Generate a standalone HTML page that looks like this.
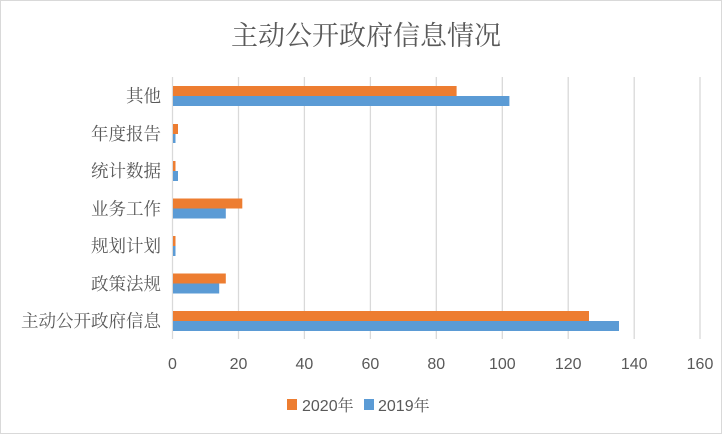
<!DOCTYPE html>
<html><head><meta charset="utf-8"><style>
body{margin:0;background:#fff;}
text{font-family:"Liberation Sans","Noto Serif CJK SC",serif;fill:#595959;}
.cj{font-family:"Liberation Serif","Noto Serif CJK SC",serif;}
</style></head><body>
<svg width="722" height="434" viewBox="0 0 722 434" xmlns="http://www.w3.org/2000/svg">
<rect x="0.5" y="0.5" width="721" height="433" fill="#fff" stroke="#d9d9d9"/>
<text class="cj" x="366" y="45" font-size="27" text-anchor="middle">主动公开政府信息情况</text>
<g stroke="#d9d9d9" stroke-width="1.3">
<line x1="172.5" y1="77" x2="172.5" y2="339"/>
<line x1="238.5" y1="77" x2="238.5" y2="339"/>
<line x1="304.4" y1="77" x2="304.4" y2="339"/>
<line x1="370.4" y1="77" x2="370.4" y2="339"/>
<line x1="436.3" y1="77" x2="436.3" y2="339"/>
<line x1="502.3" y1="77" x2="502.3" y2="339"/>
<line x1="568.2" y1="77" x2="568.2" y2="339"/>
<line x1="634.2" y1="77" x2="634.2" y2="339"/>
<line x1="700" y1="77" x2="700" y2="339"/>
</g>
<g>
<rect x="173" y="86" width="283.6" height="10" fill="#ed7d31"/><rect x="173" y="96" width="336.4" height="10" fill="#5b9bd5"/>
<rect x="173" y="124" width="5" height="10" fill="#ed7d31"/><rect x="173" y="134" width="2.5" height="9" fill="#5b9bd5"/>
<rect x="173" y="161" width="2.5" height="10" fill="#ed7d31"/><rect x="173" y="171" width="5" height="10" fill="#5b9bd5"/>
<rect x="173" y="198.5" width="69.3" height="10" fill="#ed7d31"/><rect x="173" y="208.5" width="52.8" height="10" fill="#5b9bd5"/>
<rect x="173" y="236" width="2.5" height="10" fill="#ed7d31"/><rect x="173" y="246" width="2.5" height="10" fill="#5b9bd5"/>
<rect x="173" y="273.5" width="52.8" height="10" fill="#ed7d31"/><rect x="173" y="283.5" width="46.2" height="10" fill="#5b9bd5"/>
<rect x="173" y="311" width="416" height="10" fill="#ed7d31"/><rect x="173" y="321" width="446" height="10" fill="#5b9bd5"/>
</g>
<g class="cj" font-size="17.5" text-anchor="end">
<text x="161" y="102">其他</text>
<text x="161" y="140">年度报告</text>
<text x="161" y="177">统计数据</text>
<text x="161" y="215">业务工作</text>
<text x="161" y="252">规划计划</text>
<text x="161" y="290">政策法规</text>
<text x="161" y="327">主动公开政府信息</text>
</g>
<g font-size="16" text-anchor="middle">
<text x="172.5" y="369">0</text><text x="238.5" y="369">20</text><text x="304.4" y="369">40</text>
<text x="370.4" y="369">60</text><text x="436.3" y="369">80</text><text x="502.3" y="369">100</text>
<text x="568.2" y="369">120</text><text x="634.2" y="369">140</text><text x="700" y="369">160</text>
</g>
<rect x="287" y="399" width="10" height="11" fill="#ed7d31"/>
<text x="302" y="411" font-size="16">2020<tspan class="cj">年</tspan></text>
<rect x="364" y="399" width="10" height="11" fill="#5b9bd5"/>
<text x="378" y="411" font-size="16">2019<tspan class="cj">年</tspan></text>
</svg>
</body></html>
